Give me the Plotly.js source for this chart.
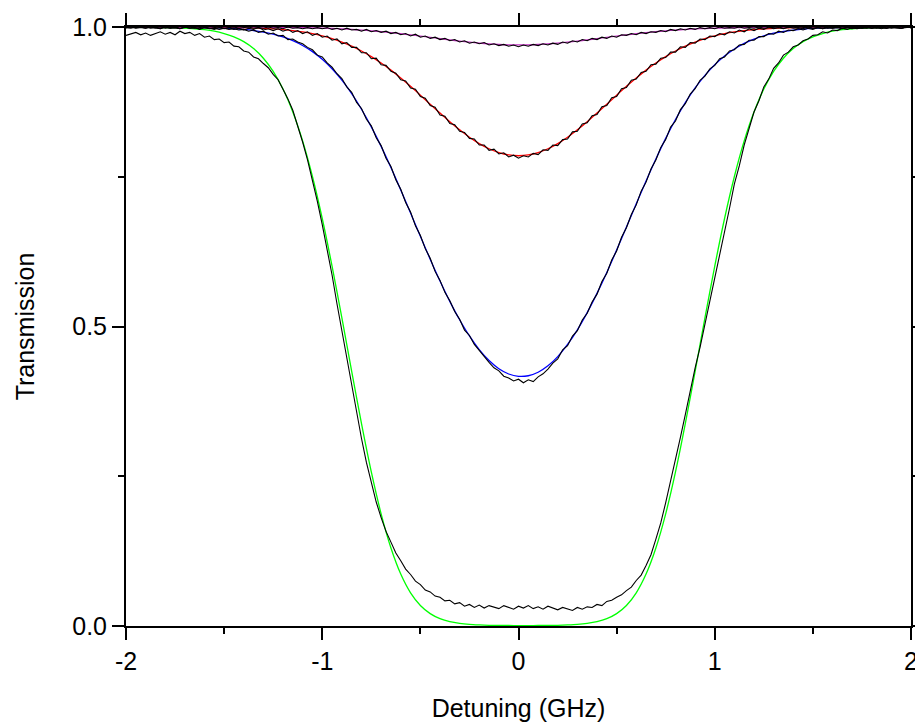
<!DOCTYPE html>
<html>
<head>
<meta charset="utf-8">
<script src="https://cdn.plot.ly/plotly-3.0.1.min.js"></script>
<style>html,body{margin:0;padding:0;background:#fff;}#chart{width:915px;height:722px;}</style>
</head>
<body>
<div id="chart"></div>
<script>
// ---------- measured transmission (black) ----------
const xData = [
-2,-1.975,-1.95,-1.925,-1.9,-1.875,-1.85,-1.825,-1.8,-1.775,
-1.75,-1.725,-1.7,-1.675,-1.65,-1.625,-1.6,-1.575,-1.55,-1.525,
-1.5,-1.475,-1.45,-1.425,-1.4,-1.375,-1.35,-1.325,-1.3,-1.275,
-1.25,-1.225,-1.2,-1.175,-1.15,-1.125,-1.1,-1.075,-1.05,-1.025,
-1,-0.975,-0.95,-0.925,-0.9,-0.875,-0.85,-0.825,-0.8,-0.775,
-0.75,-0.725,-0.7,-0.675,-0.65,-0.625,-0.6,-0.575,-0.55,-0.525,
-0.5,-0.475,-0.45,-0.425,-0.4,-0.375,-0.35,-0.325,-0.3,-0.275,
-0.25,-0.225,-0.2,-0.175,-0.15,-0.125,-0.1,-0.075,-0.05,-0.025,
0,0.025,0.05,0.075,0.1,0.125,0.15,0.175,0.2,0.225,
0.25,0.275,0.3,0.325,0.35,0.375,0.4,0.425,0.45,0.475,
0.5,0.525,0.55,0.575,0.6,0.625,0.65,0.675,0.7,0.725,
0.75,0.775,0.8,0.825,0.85,0.875,0.9,0.925,0.95,0.975,
1,1.025,1.05,1.075,1.1,1.125,1.15,1.175,1.2,1.225,
1.25,1.275,1.3,1.325,1.35,1.375,1.4,1.425,1.45,1.475,
1.5,1.525,1.55,1.575,1.6,1.625,1.65,1.675,1.7,1.725,
1.75,1.775,1.8,1.825,1.85,1.875,1.9,1.925,1.95,1.975,
2];

const dataThick = [
.986,.989,.991,.987,.990,.986,.989,.992,.988,.991,
.987,.993,.989,.991,.986,.989,.983,.985,.979,.980,
.974,.975,.968,.967,.960,.958,.950,.947,.939,.932,
.921,.912,.896,.880,.861,.835,.808,.778,.745,.709,
.670,.630,.586,.538,.493,.445,.400,.354,.313,.273,
.239,.207,.181,.158,.140,.122,.109,.095,.086,.075,
.069,.060,.057,.050,.048,.042,.043,.037,.039,.033,
.036,.031,.035,.030,.034,.032,.029,.034,.031,.028,
.033,.030,.034,.029,.032,.028,.033,.030,.027,.031,
.029,.026,.031,.028,.032,.031,.036,.034,.041,.043,
.048,.052,.059,.065,.076,.085,.101,.119,.145,.172,
.206,.241,.281,.315,.353,.393,.431,.465,.503,.540,
.580,.616,.656,.697,.738,.768,.803,.829,.858,.877,
.900,.913,.931,.940,.953,.958,.967,.970,.977,.980,
.986,.987,.992,.990,.995,.994,.998,.996,.999,.997,
.999,.998,1.000,.998,.999,.998,1.000,.999,.998,1.000,
.999];

const dataBlue = [
.999,.998,1.000,.999,.998,1.000,.999,.997,1.000,.998,
.999,.997,1.000,.998,.999,.996,.999,.997,.998,.996,
.998,.996,.997,.995,.996,.993,.995,.991,.993,.988,
.990,.985,.986,.979,.980,.975,.972,.966,.962,.953,
.950,.940,.933,.922,.914,.900,.891,.874,.864,.846,
.835,.815,.802,.781,.767,.745,.729,.707,.691,.668,
.652,.630,.614,.592,.577,.557,.543,.525,.512,.494,
.485,.470,.460,.449,.440,.431,.426,.417,.414,.409,
.412,.406,.411,.408,.416,.421,.429,.439,.446,.461,
.468,.484,.493,.511,.522,.541,.554,.575,.589,.611,
.626,.649,.665,.687,.703,.726,.741,.763,.778,.799,
.812,.833,.843,.862,.872,.888,.897,.911,.918,.930,
.936,.947,.950,.960,.962,.970,.971,.978,.978,.984,
.984,.989,.988,.993,.991,.995,.994,.997,.995,.998,
.996,.999,.997,.999,.998,1.000,.998,.999,.997,1.000,
.998,.999,.998,1.000,.999,.998,1.000,.999,.998,1.000,
.999];

const dataRed = [
.999,1.000,.998,.999,1.000,.998,.999,.997,1.000,.998,
.999,.997,1.000,.998,.999,.997,.999,.998,.996,.999,
.997,.999,.996,.998,.995,.998,.996,.999,.995,.997,
.994,.997,.993,.996,.991,.994,.989,.992,.986,.989,
.983,.985,.978,.980,.972,.974,.966,.966,.957,.957,
.947,.948,.937,.936,.926,.923,.912,.910,.898,.896,
.884,.881,.869,.866,.853,.851,.839,.837,.826,.824,
.814,.813,.803,.803,.794,.796,.788,.790,.783,.786,
.781,.785,.783,.789,.787,.795,.794,.803,.802,.812,
.813,.825,.826,.838,.840,.852,.854,.867,.869,.882,
.884,.897,.899,.911,.913,.924,.926,.937,.938,.948,
.949,.958,.958,.967,.966,.974,.973,.980,.979,.985,
.984,.989,.987,.992,.990,.995,.992,.997,.994,.998,
.996,1.000,.997,.999,.997,1.000,.998,.999,.997,1.000,
.998,.999,.997,1.000,.998,.999,.997,1.000,.998,.999,
.998,1.000,.998,.999,.997,1.000,.998,.999,.998,1.000,
.999];

const dataWeak = [
.999,1.000,.999,1.000,.998,1.000,.999,1.000,.998,.999,
1.000,.998,.999,1.000,.998,.999,1.000,.998,.999,1.000,
.998,.999,1.000,.998,.999,1.000,.998,.999,.998,1.000,
.998,.999,.997,1.000,.998,.999,.997,.999,.997,.999,
.997,.999,.996,.998,.995,.998,.995,.996,.993,.996,
.992,.994,.991,.993,.989,.991,.987,.989,.985,.988,
.983,.985,.981,.983,.979,.981,.977,.979,.975,.977,
.973,.975,.972,.974,.970,.972,.969,.971,.968,.970,
.967,.970,.968,.971,.969,.972,.970,.973,.971,.975,
.973,.977,.975,.979,.977,.981,.979,.983,.981,.985,
.983,.987,.986,.989,.987,.991,.989,.992,.991,.994,
.992,.996,.994,.997,.995,.998,.996,.999,.997,.999,
.997,1.000,.998,.999,.998,1.000,.998,.999,.998,1.000,
.998,.999,.999,1.000,.998,.999,1.000,.998,.999,1.000,
.998,.999,1.000,.998,.999,1.000,.998,.999,1.000,.998,
.999,1.000,.998,.999,1.000,.998,.999,1.000,.998,.999,
1.000];

// ---------- fitted curves ----------
const xFit = [
-2,-1.95,-1.9,-1.85,-1.8,-1.75,-1.7,-1.65,-1.6,-1.55,
-1.5,-1.45,-1.4,-1.35,-1.3,-1.25,-1.2,-1.15,-1.1,-1.05,
-1,-0.95,-0.9,-0.85,-0.8,-0.75,-0.7,-0.65,-0.6,-0.55,
-0.5,-0.45,-0.4,-0.35,-0.3,-0.25,-0.2,-0.15,-0.1,-0.05,
0,0.05,0.1,0.15,0.2,0.25,0.3,0.35,0.4,0.45,
0.5,0.55,0.6,0.65,0.7,0.75,0.8,0.85,0.9,0.95,
1,1.05,1.1,1.15,1.2,1.25,1.3,1.35,1.4,1.45,
1.5,1.55,1.6,1.65,1.7,1.75,1.8,1.85,1.9,1.95,
2];

const fitGreen = [
1.000,1.000,1.000,1.000,.999,.999,.998,.997,.9955,.993,
.989,.9836,.9755,.964,.9479,.9258,.8964,.8581,.8098,.7504,
.6803,.6007,.5143,.4251,.3378,.2572,.1872,.1302,.0867,.0554,
.0342,.0206,.0122,.0073,.0044,.0027,.0018,.0012,.0009,.0008,
.0007,.0007,.0008,.0009,.0012,.0018,.0027,.0044,.0073,.0122,
.0206,.0342,.0554,.0867,.1302,.1872,.2572,.3378,.4251,.5143,
.6007,.6803,.7504,.8098,.8581,.8964,.9258,.9479,.964,.9755,
.9836,.989,.993,.9955,.997,.998,.999,.999,1.000,1.000,
1.000];

const fitBlue = [
1.000,1.000,1.000,1.000,.9998,.9997,.9996,.9995,.9992,.9987,
.9981,.9972,.9959,.9941,.9915,.9880,.9834,.9772,.9692,.9589,
.9461,.9303,.9113,.8888,.8627,.8333,.8007,.7653,.7279,.6894,
.6506,.6124,.5760,.5420,.5112,.4842,.4614,.4431,.4295,.4207,
.4168,.4178,.4236,.4343,.4498,.4700,.4945,.5232,.5553,.5903,
.6276,.6661,.7049,.7430,.7797,.8141,.8455,.8736,.8982,.9193,
.9370,.9515,.9633,.9726,.9799,.9854,.9896,.9927,.9949,.9965,
.9976,.9984,.9989,.9993,.9995,.9997,.9998,.9999,1.000,1.000,
1.000];

const fitRed = [
1,1,1,1,1,1,.9999,.9999,.9998,.9997,
.9995,.9993,.9990,.9985,.9978,.9969,.9956,.9939,.9917,.9888,
.9851,.9805,.9749,.9680,.9600,.9506,.9399,.9280,.9149,.9009,
.8862,.8712,.8563,.8419,.8283,.8160,.8053,.7967,.7903,.7864,
.7851,.7864,.7903,.7967,.8053,.8160,.8283,.8419,.8563,.8712,
.8862,.9009,.9149,.9280,.9399,.9506,.9600,.9680,.9749,.9805,
.9851,.9888,.9917,.9939,.9956,.9969,.9978,.9985,.9990,.9993,
.9995,.9997,.9998,.9999,.9999,1,1,1,1,1,
1];

const fitWeak = [
1,1,1,1,1,1,1,1,1,1,
1,.9999,.9999,.9998,.9997,.9996,.9994,.9992,.9989,.9986,
.9981,.9975,.9968,.9959,.9949,.9936,.9922,.9906,.9888,.9869,
.9849,.9828,.9806,.9785,.9765,.9747,.9731,.9718,.9708,.9702,
.9700,.9702,.9708,.9718,.9731,.9747,.9765,.9785,.9806,.9828,
.9849,.9869,.9888,.9906,.9922,.9936,.9949,.9959,.9968,.9975,
.9981,.9986,.9989,.9992,.9994,.9996,.9997,.9998,.9999,.9999,
1,1,1,1,1,1,1,1,1,1,
1];

// ---------- tick labels ----------
const xTickVals = [-2, -1, 0, 1, 2];
const xTickText = ['-2', '-1', '0', '1', '2'];
const yTickVals = [0, 0.5, 1];
const yTickText = ['0.0', '0.5', '1.0'];

[dataThick, dataBlue, dataRed, dataWeak].forEach((a, i) => {
  if (a.length !== xData.length) throw new Error('data length mismatch ' + i + ': ' + a.length);
});
[fitGreen, fitBlue, fitRed, fitWeak].forEach((a, i) => {
  if (a.length !== xFit.length) throw new Error('fit length mismatch ' + i + ': ' + a.length);
});

const fitLine = (y, color) => ({
  x: xFit, y: y, type: 'scatter', mode: 'lines',
  line: { color: color, width: 1.3, shape: 'spline', smoothing: 0.8 },
  hoverinfo: 'skip', showlegend: false
});
const dataLine = (y) => ({
  x: xData, y: y, type: 'scatter', mode: 'lines',
  line: { color: '#000000', width: 1.1 },
  hoverinfo: 'skip', showlegend: false
});

const traces = [
  fitLine(fitGreen, '#00ff00'),
  fitLine(fitBlue, '#0000ff'),
  fitLine(fitRed, '#ff0000'),
  fitLine(fitWeak, '#c030c0'),
  dataLine(dataThick),
  dataLine(dataBlue),
  dataLine(dataRed),
  dataLine(dataWeak)
];

const FONT = 'Liberation Sans, Arial, sans-serif';
const layout = {
  width: 915, height: 722,
  margin: { l: 126, r: 4, t: 27, b: 96, pad: 0 },
  paper_bgcolor: '#ffffff', plot_bgcolor: '#ffffff',
  font: { family: FONT, size: 25, color: '#000000' },
  showlegend: false,
  xaxis: {
    range: [-2, 2], showgrid: false, zeroline: false,
    showline: true, linecolor: '#000', linewidth: 2, mirror: 'allticks',
    ticks: 'outside', ticklen: 12, tickwidth: 2, tickcolor: '#000',
    tickmode: 'array', tickvals: xTickVals, ticktext: xTickText,
    ticklabeloverflow: 'allow',
    tickfont: { family: FONT, size: 25, color: '#000' },
    minor: { dtick: 0.5, tick0: -2, ticks: 'outside', ticklen: 6, tickwidth: 2, tickcolor: '#000', showgrid: false },
    title: { text: 'Detuning (GHz)', font: { family: FONT, size: 25, color: '#000' }, standoff: 26 },
    automargin: false
  },
  yaxis: {
    range: [0, 1], showgrid: false, zeroline: false,
    showline: true, linecolor: '#000', linewidth: 2, mirror: 'allticks',
    ticks: 'outside', ticklen: 12, tickwidth: 2, tickcolor: '#000',
    tickmode: 'array', tickvals: yTickVals, ticktext: yTickText,
    ticklabeloverflow: 'allow',
    tickfont: { family: FONT, size: 25, color: '#000' },
    minor: { dtick: 0.25, tick0: 0, ticks: 'outside', ticklen: 6, tickwidth: 2, tickcolor: '#000', showgrid: false },
    title: { text: 'Transmission', font: { family: FONT, size: 25, color: '#000' }, standoff: 30 },
    automargin: false
  }
};

Plotly.newPlot('chart', traces, layout, { staticPlot: true, displayModeBar: false });
</script>
</body>
</html>
